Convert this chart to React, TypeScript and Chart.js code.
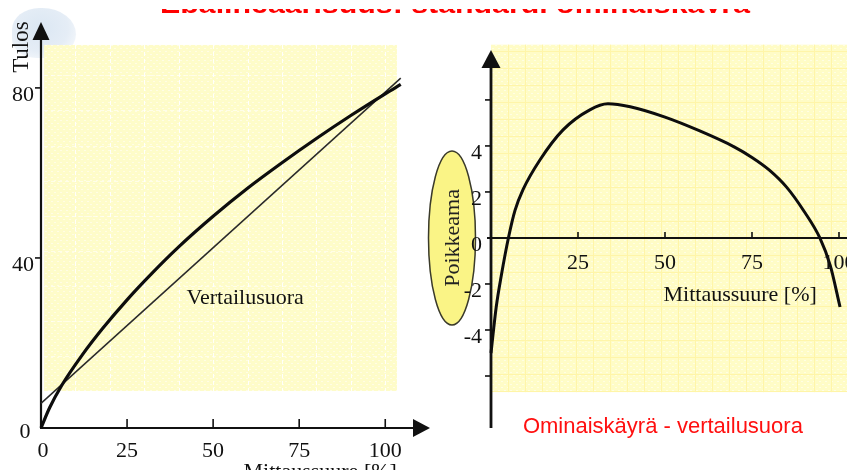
import { useEffect, useRef } from "react";
import { Chart, registerables } from "chart.js";

Chart.register(...registerables);

// Vasen kuvaaja: ominaiskäyrä (Tulos) ja vertailusuora mittaussuureen funktiona
const mittausX = [0, 2.5, 6, 12, 18, 25, 32, 40, 50, 60, 70, 80, 90, 100, 104.5];
const tulosY = [0, 4.75, 10.0, 17.2, 23.5, 30.15, 36.2, 42.6, 49.8, 56.4, 62.4, 68.1, 73.5, 78.6, 80.8];
const vertailuX = [0, 104.5];
const vertailuY = [5.8, 82.3];
const leftXTicks = [0, 25, 50, 75, 100];
const leftYTicks = [40, 80];

// Oikea kuvaaja: poikkeama = ominaiskäyrä - vertailusuora
const poikkeamaX = [0, 1.5, 3, 5, 6.9, 9.2, 14.1, 20.7, 28.4, 33.6, 40, 50, 60, 70, 75, 80, 85, 90, 94.5, 97.5, 100.3];
const poikkeamaY = [-5.0, -3.0, -1.6, 0, 1.2, 2.1, 3.4, 4.7, 5.57, 5.83, 5.7, 5.25, 4.65, 3.95, 3.5, 2.95, 2.2, 1.15, 0, -1.2, -3.0];
const rightXTicks = [25, 50, 75, 100];
const rightYTicks = [-6, -4, -2, 2, 4, 6];
const rightYLabels = [4, 2, 0, -2, -4];

const TITLE = "Epälineaarisuus: standardi ominaiskäyrä";

const SERIF = '"Liberation Serif", "Times New Roman", serif';
const SANS = '"Liberation Sans", Arial, sans-serif';
const INK = "#111";

type Ctx = CanvasRenderingContext2D;

function arrowUp(ctx: Ctx, x: number, tip: number, len: number, half: number) {
  ctx.beginPath();
  ctx.moveTo(x, tip);
  ctx.lineTo(x - half, tip + len);
  ctx.lineTo(x + half, tip + len);
  ctx.closePath();
  ctx.fill();
}

function arrowRight(ctx: Ctx, tip: number, y: number, len: number, half: number) {
  ctx.beginPath();
  ctx.moveTo(tip, y);
  ctx.lineTo(tip - len, y - half);
  ctx.lineTo(tip - len, y + half);
  ctx.closePath();
  ctx.fill();
}

function line(ctx: Ctx, x0: number, y0: number, x1: number, y1: number) {
  ctx.beginPath();
  ctx.moveTo(x0, y0);
  ctx.lineTo(x1, y1);
  ctx.stroke();
}

function texture(base: string, mark: string) {
  const c = document.createElement("canvas");
  c.width = 6;
  c.height = 6;
  const g = c.getContext("2d")!;
  g.fillStyle = base;
  g.fillRect(0, 0, 6, 6);
  g.fillStyle = mark;
  g.fillRect(0, 0, 2, 1);
  g.fillRect(3, 3, 2, 1);
  return c;
}

const leftPanel = { x0: 0.9, x1: 103.4, y0: 8.7, y1: 90.1 };
const leftNotes = {
  vertailu: { x: 59.3, y: 30.6 },
  tulos: { x: -5.5, y: 89.6 },
  xTitle: { x: 81.1, y: -10.5 },
};

const leftPlugin = {
  id: "leftAxes",
  beforeDatasetsDraw(chart: any) {
    const ctx: Ctx = chart.ctx;
    const xs = chart.scales.x;
    const ys = chart.scales.y;
    const px = (v: number) => xs.getPixelForValue(v);
    const py = (v: number) => ys.getPixelForValue(v);
    ctx.save();
    // paneelin tausta
    const bx0 = px(leftPanel.x0);
    const bx1 = px(leftPanel.x1);
    const by0 = py(leftPanel.y1);
    const by1 = py(leftPanel.y0);
    ctx.fillStyle = ctx.createPattern(texture("#fefcc9", "#fffde6"), "repeat")!;
    ctx.fillRect(bx0, by0, bx1 - bx0, by1 - by0);
    ctx.strokeStyle = "rgba(255,255,255,0.95)";
    ctx.lineWidth = 1;
    ctx.setLineDash([4, 3]);
    for (let v = 10; v <= 100; v += 10) line(ctx, Math.round(px(v)) + 0.5, by0, Math.round(px(v)) + 0.5, by1);
    ctx.strokeStyle = "rgba(255,255,255,0.6)";
    for (let v = leftPanel.y0 + 8.25; v < leftPanel.y1; v += 8.25) line(ctx, bx0, Math.round(py(v)) + 0.5, bx1, Math.round(py(v)) + 0.5);
    ctx.setLineDash([]);

    // akselit nuolineen
    const ox = px(0);
    const oy = py(0);
    ctx.strokeStyle = INK;
    ctx.fillStyle = INK;
    ctx.lineWidth = 2.2;
    line(ctx, ox, oy, ox, chart.chartArea.top + 12);
    line(ctx, ox - 1, oy, chart.chartArea.right - 12, oy);
    arrowUp(ctx, ox, chart.chartArea.top, 18, 8.5);
    arrowRight(ctx, chart.chartArea.right, oy, 17, 9);
    ctx.lineWidth = 1.6;
    leftXTicks.filter((v) => v > 0).forEach((v) => line(ctx, px(v), oy - 9, px(v), oy));
    leftYTicks.forEach((v) => line(ctx, ox - 6, py(v), ox, py(v)));
    ctx.restore();
  },
  afterDatasetsDraw(chart: any) {
    const ctx: Ctx = chart.ctx;
    const xs = chart.scales.x;
    const ys = chart.scales.y;
    const px = (v: number) => xs.getPixelForValue(v);
    const py = (v: number) => ys.getPixelForValue(v);
    const ox = px(0);
    const oy = py(0);
    ctx.save();
    ctx.fillStyle = INK;
    ctx.font = `22px ${SERIF}`;
    ctx.textBaseline = "middle";
    ctx.textAlign = "center";
    leftXTicks.forEach((v) => ctx.fillText(String(v), px(v) + (v === 0 ? 2 : 0), oy + 23));
    ctx.fillText("0", ox - 16, oy + 4);
    ctx.textAlign = "right";
    leftYTicks.forEach((v) => ctx.fillText(String(v), ox - 7, py(v) + 7));
    ctx.textAlign = "center";
    ctx.fillText("Vertailusuora", px(leftNotes.vertailu.x), py(leftNotes.vertailu.y));
    ctx.fillText("Mittaussuure [%]", px(leftNotes.xTitle.x), py(leftNotes.xTitle.y));
    ctx.save();
    ctx.translate(px(leftNotes.tulos.x), py(leftNotes.tulos.y));
    ctx.rotate(-Math.PI / 2);
    ctx.font = `23px ${SERIF}`;
    ctx.fillText("Tulos", 0, 0);
    ctx.restore();
    ctx.restore();
  },
};

const rightPanel = { x0: 0, x1: 102.3, y0: -6.7, y1: 8.4 };
const rightNotes = {
  ellipse: { dx: -39, rx: 23.5, ry: 87 },
  xTitle: { x: 71.6, y: -2.48 },
  caption: { x: 49.4, y: -8.2 },
};

const rightPlugin = {
  id: "rightAxes",
  beforeDatasetsDraw(chart: any) {
    const ctx: Ctx = chart.ctx;
    const xs = chart.scales.x;
    const ys = chart.scales.y;
    const px = (v: number) => xs.getPixelForValue(v);
    const py = (v: number) => ys.getPixelForValue(v);
    const ox = px(0);
    const oy = py(0);
    ctx.save();
    // paneelin tausta ruudukkoineen
    const bx0 = px(rightPanel.x0);
    const bx1 = px(rightPanel.x1);
    const by0 = py(rightPanel.y1);
    const by1 = py(rightPanel.y0);
    ctx.fillStyle = ctx.createPattern(texture("#fffcc6", "#fffee4"), "repeat")!;
    ctx.fillRect(bx0, by0, bx1 - bx0, by1 - by0);
    ctx.strokeStyle = "#fff5a8";
    ctx.lineWidth = 1;
    for (let x = bx0 + 17; x < bx1; x += 17) line(ctx, Math.round(x) + 0.5, by0, Math.round(x) + 0.5, by1);
    for (let y = oy; y > by0; y -= 17) line(ctx, bx0, Math.round(y) + 0.5, bx1, Math.round(y) + 0.5);
    for (let y = oy + 17; y < by1; y += 17) line(ctx, bx0, Math.round(y) + 0.5, bx1, Math.round(y) + 0.5);

    // Poikkeama-ellipsi
    const e = rightNotes.ellipse;
    ctx.beginPath();
    ctx.ellipse(ox + e.dx, oy, e.rx, e.ry, 0, 0, Math.PI * 2);
    ctx.fillStyle = "#faf486";
    ctx.fill();
    ctx.strokeStyle = "#3a3a2a";
    ctx.lineWidth = 1.5;
    ctx.stroke();
    ctx.save();
    ctx.translate(ox + e.dx + 1, oy);
    ctx.rotate(-Math.PI / 2);
    ctx.fillStyle = "#222";
    ctx.font = `22px ${SERIF}`;
    ctx.textAlign = "center";
    ctx.textBaseline = "middle";
    ctx.fillText("Poikkeama", 0, 0);
    ctx.restore();

    // akselit
    ctx.strokeStyle = INK;
    ctx.fillStyle = INK;
    ctx.lineWidth = 2.8;
    line(ctx, ox, chart.chartArea.top + 12, ox, chart.chartArea.bottom);
    arrowUp(ctx, ox, chart.chartArea.top, 18, 9.5);
    ctx.lineWidth = 2;
    line(ctx, ox - 4, oy, chart.chartArea.right, oy);
    ctx.lineWidth = 1.6;
    rightYTicks.forEach((v) => line(ctx, ox - 6, py(v), ox, py(v)));
    rightXTicks.forEach((v) => line(ctx, px(v), oy - 6, px(v), oy));
    ctx.restore();
  },
  afterDatasetsDraw(chart: any) {
    const ctx: Ctx = chart.ctx;
    const xs = chart.scales.x;
    const ys = chart.scales.y;
    const px = (v: number) => xs.getPixelForValue(v);
    const py = (v: number) => ys.getPixelForValue(v);
    const ox = px(0);
    const oy = py(0);
    ctx.save();
    ctx.fillStyle = INK;
    ctx.font = `22px ${SERIF}`;
    ctx.textBaseline = "middle";
    ctx.textAlign = "center";
    rightXTicks.forEach((v) => ctx.fillText(String(v), px(v), oy + 25));
    ctx.textAlign = "right";
    rightYLabels.forEach((v) => ctx.fillText(v < 0 ? "-" + Math.abs(v) : String(v), ox - 9, py(v) + 7));
    ctx.textAlign = "center";
    ctx.fillText("Mittaussuure [%]", px(rightNotes.xTitle.x), py(rightNotes.xTitle.y));
    ctx.fillStyle = "#ff1010";
    ctx.font = `22px ${SANS}`;
    ctx.fillText("Ominaiskäyrä - vertailusuora", px(rightNotes.caption.x), py(rightNotes.caption.y));
    ctx.restore();
  },
};

function pts(xs: number[], ys: number[]) {
  return xs.map((x, i) => ({ x, y: ys[i] }));
}

function baseOptions(xMax: number, yMin: number, yMax: number, padding: any) {
  return {
    responsive: false,
    animation: false as const,
    layout: { padding },
    plugins: { legend: { display: false }, tooltip: { enabled: false }, title: { display: false } },
    scales: {
      x: { type: "linear" as const, min: 0, max: xMax, display: false },
      y: { type: "linear" as const, min: yMin, max: yMax, display: false },
    },
    elements: { point: { radius: 0 } },
  };
}

export default function App() {
  const leftRef = useRef<HTMLCanvasElement>(null);
  const rightRef = useRef<HTMLCanvasElement>(null);
  const titleRef = useRef<HTMLCanvasElement>(null);

  useEffect(() => {
    // otsikosta näkyy vain alareunan kapea kaistale
    const tc = titleRef.current!.getContext("2d")!;
    tc.clearRect(0, 0, 847, 4);
    tc.font = `bold 26px ${SANS}`;
    tc.fillStyle = "#ff0000";
    tc.textBaseline = "alphabetic";
    const w = tc.measureText(TITLE).width;
    tc.save();
    tc.translate(160, 4);
    tc.scale(590 / w, 1);
    tc.fillText(TITLE, 0, 0);
    tc.restore();

    const left = new Chart(leftRef.current!, {
      type: "line",
      data: {
        datasets: [
          {
            label: "Ominaiskäyrä",
            data: pts(mittausX, tulosY),
            borderColor: "#0d0d0d",
            borderWidth: 3.2,
            cubicInterpolationMode: "monotone",
            clip: false,
          },
          {
            label: "Vertailusuora",
            data: pts(vertailuX, vertailuY),
            borderColor: "#2a2a2a",
            borderWidth: 1.5,
            clip: false,
          },
        ],
      },
      options: baseOptions(113, 0, 95.5, { left: 41, right: 10, top: 22, bottom: 42 }),
      plugins: [leftPlugin],
    } as any);

    const right = new Chart(rightRef.current!, {
      type: "line",
      data: {
        datasets: [
          {
            label: "Poikkeama",
            data: pts(poikkeamaX, poikkeamaY),
            borderColor: "#0d0d0d",
            borderWidth: 3,
            cubicInterpolationMode: "monotone",
            clip: false,
          },
        ],
      },
      options: baseOptions(102.3, -8.26, 8.17, { left: 71, right: 0, top: 50, bottom: 42 }),
      plugins: [rightPlugin],
    } as any);

    return () => {
      left.destroy();
      right.destroy();
    };
  }, []);

  return (
    <div
      style={{
        position: "absolute",
        left: 0,
        top: 0,
        width: 847,
        height: 470,
        overflow: "hidden",
        background: "#fff",
      }}
    >
      <div
        style={{
          position: "absolute",
          left: 12,
          top: 8,
          width: 64,
          height: 50,
          borderRadius: "45% 55% 50% 40%",
          background: "radial-gradient(ellipse at 45% 40%, #dbe7f3 0%, #e5edf6 55%, rgba(240,245,251,0) 100%)",
        }}
      />
      <canvas
        ref={titleRef}
        width={847}
        height={4}
        aria-label={TITLE}
        style={{ position: "absolute", left: 0, top: 9, width: 847, height: 4 }}
      />
      <canvas ref={leftRef} width={440} height={470} style={{ position: "absolute", left: 0, top: 0, width: 440, height: 470 }} />
      <canvas ref={rightRef} width={427} height={470} style={{ position: "absolute", left: 420, top: 0, width: 427, height: 470 }} />
    </div>
  );
}
